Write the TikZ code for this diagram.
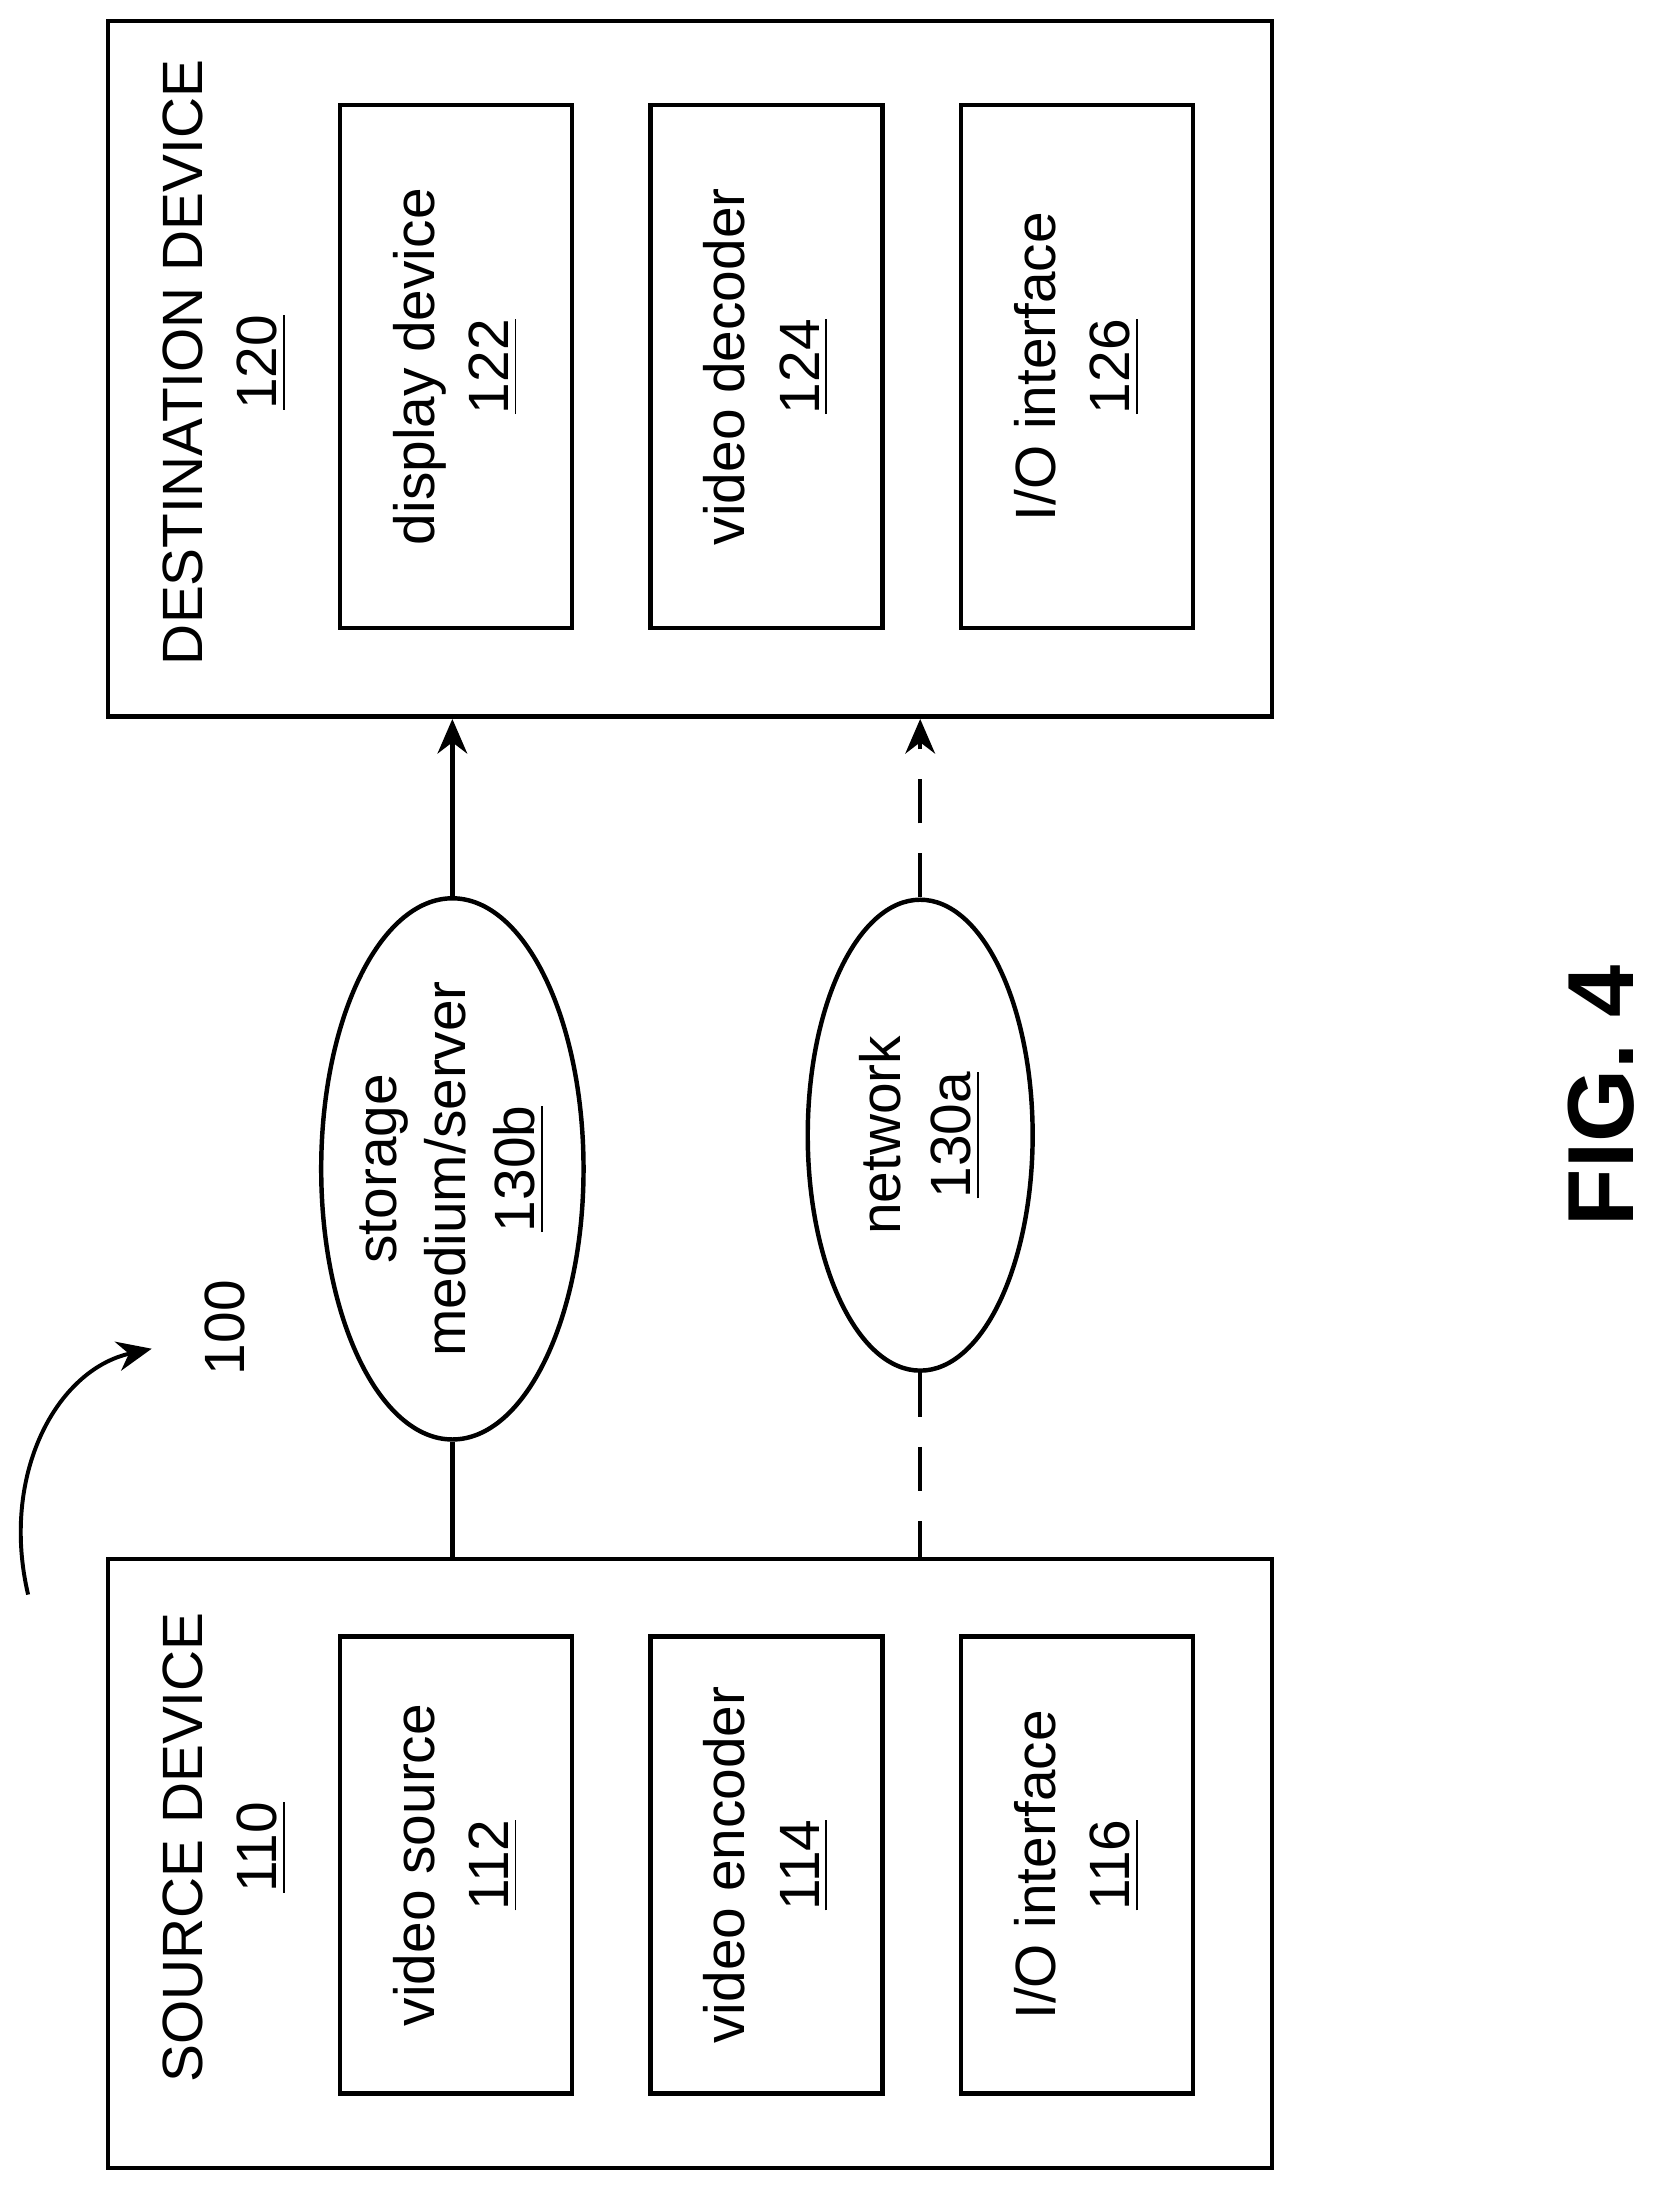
\documentclass[tikz,border=0pt]{standalone}
\usepackage{fontspec}
\setmainfont{Liberation Sans}
\usetikzlibrary{shapes.geometric,arrows.meta}
\tikzset{
  dev/.style={draw, line width=0.9pt, minimum width=8.28cm, minimum height=4.33cm},
  unit/.style={draw, line width=0.9pt, rotate=90, minimum height=1.65cm, align=center,
    font=\fontsize{11.5}{15}\selectfont},
  cloud/.style={draw, ellipse, line width=0.9pt, rotate=90, align=center, inner sep=0pt,
    font=\fontsize{11.5}{14}\selectfont},
  lbl/.style={rotate=90, align=center, font=\fontsize{11.5}{15}\selectfont},
  link/.style={line width=0.9pt, -{Stealth[length=7pt,width=6pt]}}
}
\begin{document}
\begin{tikzpicture}[x=0.01cm,y=-0.01cm]
  \useasboundingbox (0,0) rectangle (1186,1556);

  % source side
  \node[dev] (src) at (491,1326.5) {};
  \node[lbl] (srclbl) at (160,1315) {SOURCE DEVICE\\\underline{110}};
  \node[unit, minimum width=3.25cm] (vsrc) at (324.5,1327.5) {video source\\\underline{112}};
  \node[unit, minimum width=3.25cm] (venc) at (545.5,1327.5) {video encoder\\\underline{114}};
  \node[unit, minimum width=3.25cm] (sio) at (766.5,1327.5) {I/O interface\\\underline{116}};

  % destination side
  \node[dev, minimum height=4.95cm] (dst) at (491,262.5) {};
  \node[lbl] (dstlbl) at (160,258) {DESTINATION DEVICE\\\underline{120}};
  \node[unit, minimum width=3.72cm] (disp) at (324.5,261) {display device\\\underline{122}};
  \node[unit, minimum width=3.72cm] (vdec) at (545.5,261) {video decoder\\\underline{124}};
  \node[unit, minimum width=3.72cm] (dio) at (766.5,261) {I/O interface\\\underline{126}};

  % channels
  \node[cloud, minimum width=3.85cm, minimum height=1.2cm] (store) at (322,832) {storage\\medium/server\\\underline{130b}};
  \node[cloud, minimum width=3.35cm, minimum height=1.6cm] (net) at (655,808) {network\\\underline{130a}};

  \draw[line width=0.9pt] (store.west) -- (store.west |- src.north);
  \draw[link] (store.east) -- (store.east |- dst.south);
  \draw[line width=0.9pt, dashed, dash pattern=on 9pt off 6pt] (net.west) -- (net.west |- src.north);
  \draw[link, dashed, dash pattern=on 9pt off 6pt] (net.east) -- (net.east |- dst.south);

  % reference numeral
  \node[lbl] (sys) at (160,945) {100};
  \coordinate (hook) at (20,1135);
  \draw[link, line width=0.8pt] (hook) .. controls (0,1050) and (40,975) .. (108,960);

  \node[rotate=90, font=\fontsize{19}{23}\selectfont\bfseries] (fig) at (1140,780) {FIG. 4};
\end{tikzpicture}
\end{document}
